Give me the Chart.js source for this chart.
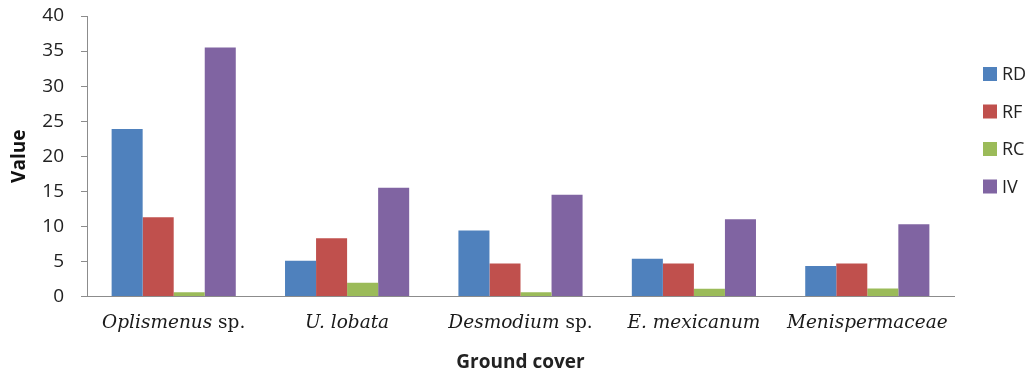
<!DOCTYPE html>
<html>
<head>
<meta charset="utf-8">
<script src="https://cdn.jsdelivr.net/npm/chart.js@4/dist/chart.umd.min.js"></script>
<style>
  html, body { margin: 0; padding: 0; background: #ffffff; }
  #wrap { width: 1032px; height: 374px; position: relative; }
</style>
</head>
<body>
<div id="wrap"><canvas id="c" width="1032" height="374"></canvas></div>
<script>
// Ground cover species (italic name part, upright suffix)
const categories = ['Oplismenus sp.', 'U. lobata', 'Desmodium sp.', 'E. mexicanum', 'Menispermaceae'];
const italicParts = ['Oplismenus', 'U. lobata', 'Desmodium', 'E. mexicanum', 'Menispermaceae'];
const uprightParts = [' sp.', '', ' sp.', '', ''];

const seriesNames = ['RD', 'RF', 'RC', 'IV'];
const rd = [23.9, 5.1, 9.4, 5.4, 4.35];
const rf = [11.3, 8.3, 4.7, 4.7, 4.7];
const rc = [0.6, 1.95, 0.6, 1.1, 1.15];
const iv = [35.5, 15.5, 14.5, 11.0, 10.3];
const yTicks = [0, 5, 10, 15, 20, 25, 30, 35, 40];

const colors = ['#4F81BD', '#C0504D', '#9BBB59', '#8064A2'];
const seriesValues = [rd, rf, rc, iv];

const axisColor = '#8c8c8c';

// Category labels mix italic genus names with upright "sp."
const categoryLabels = {
  id: 'categoryLabels',
  afterDraw(chart) {
    const ctx = chart.ctx;
    const x = chart.scales.x;
    const italicFont = 'italic 18.5px "DejaVu Serif", "Liberation Serif", serif';
    const uprightFont = '18.5px "DejaVu Serif", "Liberation Serif", serif';
    ctx.save();
    ctx.fillStyle = '#1a1a1a';
    ctx.textBaseline = 'middle';
    ctx.textAlign = 'left';
    categories.forEach((c, i) => {
      ctx.font = italicFont;
      const w1 = ctx.measureText(italicParts[i]).width;
      ctx.font = uprightFont;
      const w2 = ctx.measureText(uprightParts[i]).width;
      const cx = x.getPixelForTick(i);
      const start = cx - (w1 + w2) / 2;
      ctx.font = italicFont;
      ctx.fillText(italicParts[i], start, 323);
      ctx.font = uprightFont;
      ctx.fillText(uprightParts[i], start + w1, 323);
    });
    ctx.restore();
  }
};

// Vertical legend on the right with square swatches
const sideLegend = {
  id: 'sideLegend',
  afterDraw(chart) {
    const ctx = chart.ctx;
    ctx.save();
    ctx.font = '18px "Open Sans", sans-serif';
    ctx.textBaseline = 'middle';
    ctx.textAlign = 'left';
    chart.data.datasets.forEach((ds, i) => {
      const cy = 74 + i * 37.5;
      ctx.fillStyle = ds.backgroundColor;
      ctx.fillRect(983, cy - 7, 14, 14);
      ctx.fillStyle = '#222222';
      ctx.fillText(ds.label, 1002, cy + 1);
    });
    ctx.restore();
  }
};

new Chart(document.getElementById('c'), {
  type: 'bar',
  data: {
    labels: categories,
    datasets: seriesNames.map((name, i) => ({
      label: name,
      data: seriesValues[i],
      backgroundColor: colors[i],
      borderWidth: 0,
      categoryPercentage: 0.716,
      barPercentage: 1.0
    }))
  },
  options: {
    responsive: false,
    animation: false,
    devicePixelRatio: 1,
    layout: { padding: { top: 16, right: 78, bottom: 0, left: 0 } },
    plugins: {
      legend: { display: false },
      tooltip: { enabled: false }
    },
    scales: {
      x: {
        grid: { display: true, drawOnChartArea: false, drawTicks: false },
        border: { display: true, color: axisColor, width: 1 },
        ticks: { display: false },
        title: {
          display: true,
          text: 'Ground cover',
          color: '#222222',
          font: { family: '"Open Sans", sans-serif', size: 19, weight: 'bold' },
          padding: { top: 0, bottom: 0 }
        },
        afterFit(scale) { scale.height = 374 - 296.5; }
      },
      y: {
        min: 0,
        max: 40,
        afterBuildTicks(scale) { scale.ticks = yTicks.map(v => ({ value: v })); },
        grid: {
          display: true,
          drawOnChartArea: false,
          drawTicks: true,
          tickLength: 6,
          color: axisColor
        },
        border: { display: true, color: axisColor, width: 1 },
        ticks: {
          color: '#222222',
          padding: 17,
          font: { family: '"Open Sans", sans-serif', size: 19 }
        },
        title: {
          display: true,
          text: 'Value',
          color: '#111111',
          font: { family: '"Open Sans", sans-serif', size: 19, weight: 'bold' },
          padding: { top: 8, bottom: 0 }
        },
        afterFit(scale) {
          scale.width = 87;
          // keep the top of the plot close to the "40" label
          scale.paddingTop = 8;
          scale.paddingBottom = 8;
        }
      }
    }
  },
  plugins: [categoryLabels, sideLegend]
});
</script>
</body>
</html>
